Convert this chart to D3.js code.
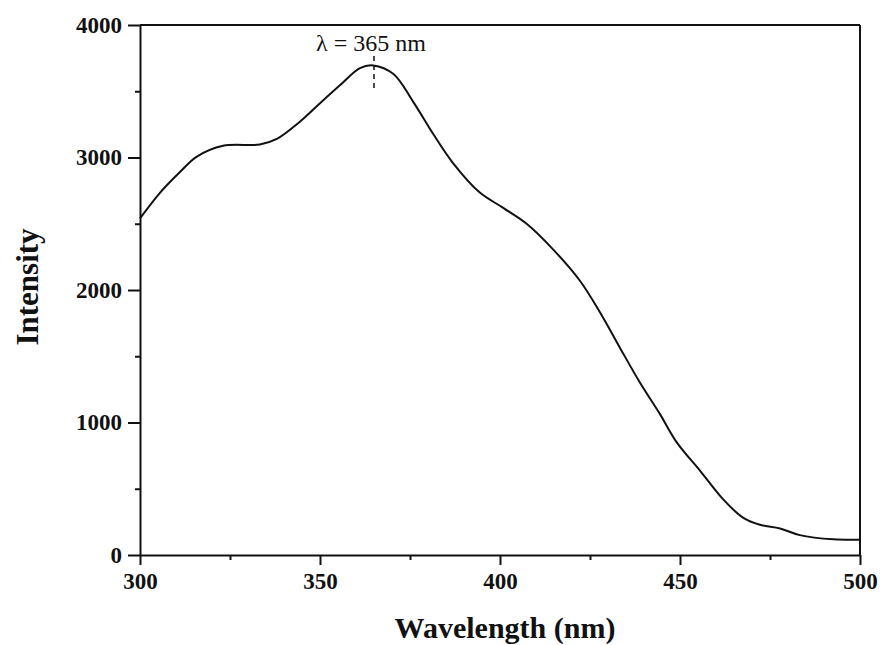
<!DOCTYPE html>
<html>
<head>
<meta charset="utf-8">
<script src="https://cdn.jsdelivr.net/npm/d3@7"></script>
<style>
  html, body { margin: 0; padding: 0; background: #fff; }
  svg { display: block; }
  text { font-family: "Liberation Serif", "Times New Roman", serif; fill: #111; }
</style>
</head>
<body>
<svg id="chart" width="880" height="645"></svg>
<script>
// Data
const wavelength = [300, 305.6, 311.1, 315.7, 323.1, 333.3, 338, 344.4, 350, 355.6, 361.1, 364.8,
  370.4, 375.9, 381.5, 387, 394.4, 400.9, 407.4, 414.8, 422.2, 427.8, 433.3, 438.9, 444.4,
  449.1, 455.6, 462, 467.6, 472.2, 477.8, 483.3, 492.6, 500];
const intensity = [2540, 2735, 2890, 3005, 3088, 3098, 3140, 3270, 3410, 3547, 3675, 3695,
  3630, 3420, 3175, 2956, 2735, 2620, 2500, 2305, 2070, 1830, 1565, 1300, 1065,
  850, 635, 420, 280, 228, 200, 150, 118, 115];
const xTicks = [300, 350, 400, 450, 500];
const yTicks = [0, 1000, 2000, 3000, 4000];
const xMinor = [325, 375, 425, 475];
const yMinor = [500, 1500, 2500, 3500];
const peak = { x: 365, label: "λ = 365 nm" };

const svg = d3.select("#chart");
const m = { left: 140, right: 20, top: 25, bottom: 90 };
const W = 880, H = 645;
const x = d3.scaleLinear().domain([300, 500]).range([m.left, W - m.right]);
const y = d3.scaleLinear().domain([0, 4000]).range([H - m.bottom, m.top]);

const g = svg.append("g");

// Frame (top and right)
g.append("line").attr("x1", x(300)).attr("x2", x(500)).attr("y1", y(4000)).attr("y2", y(4000))
  .attr("stroke", "#111").attr("stroke-width", 2);
g.append("line").attr("x1", x(500)).attr("x2", x(500)).attr("y1", y(4000)).attr("y2", y(0))
  .attr("stroke", "#111").attr("stroke-width", 2);

// Axes
const fmt = d3.format("d");
const xAxis = d3.axisBottom(x).tickValues(xTicks).tickFormat(fmt).tickSize(10).tickSizeOuter(0).tickPadding(8);
const yAxis = d3.axisLeft(y).tickValues(yTicks).tickFormat(fmt).tickSize(12).tickSizeOuter(0).tickPadding(6);

const gx = g.append("g").attr("transform", `translate(0,${y(0)})`).call(xAxis);
const gy = g.append("g").attr("transform", `translate(${x(300)},0)`).call(yAxis);
[gx, gy].forEach(a => {
  a.selectAll(".tick text").style("font-size", "23px").style("font-weight", "bold")
    .style("font-family", "Liberation Serif, serif").attr("fill", "#111");
  a.select(".domain").attr("stroke", "#111").attr("stroke-width", 2);
  a.selectAll(".tick line").attr("stroke", "#111").attr("stroke-width", 2);
});

// Minor ticks
g.append("g").attr("transform", `translate(0,${y(0)})`)
  .call(d3.axisBottom(x).tickValues(xMinor).tickSize(5).tickFormat(""))
  .call(a => { a.select(".domain").remove(); a.selectAll("line").attr("stroke", "#111").attr("stroke-width", 2); });
g.append("g").attr("transform", `translate(${x(300)},0)`)
  .call(d3.axisLeft(y).tickValues(yMinor).tickSize(5).tickFormat(""))
  .call(a => { a.select(".domain").remove(); a.selectAll("line").attr("stroke", "#111").attr("stroke-width", 2); });

// Curve
const data = wavelength.map((w, i) => [w, intensity[i]]);
g.append("path").datum(data)
  .attr("fill", "none").attr("stroke", "#111").attr("stroke-width", 2)
  .attr("d", d3.line().x(d => x(d[0])).y(d => y(d[1])).curve(d3.curveCatmullRom.alpha(0.5)));

// Peak annotation
g.append("line").attr("x1", x(peak.x)).attr("x2", x(peak.x)).attr("y1", 56).attr("y2", 90)
  .attr("stroke", "#111").attr("stroke-width", 1.5).attr("stroke-dasharray", "5,4");
g.append("text").attr("x", x(peak.x) - 3).attr("y", 51).attr("text-anchor", "middle")
  .style("font-size", "24px").text(peak.label);

// Axis titles
g.append("text").attr("x", 505).attr("y", 638).attr("text-anchor", "middle")
  .style("font-size", "30px").style("font-weight", "bold").text("Wavelength (nm)");
g.append("text").attr("transform", `translate(38,${287}) rotate(-90)`).attr("text-anchor", "middle")
  .style("font-size", "31px").style("font-weight", "bold").text("Intensity");
</script>
</body>
</html>
